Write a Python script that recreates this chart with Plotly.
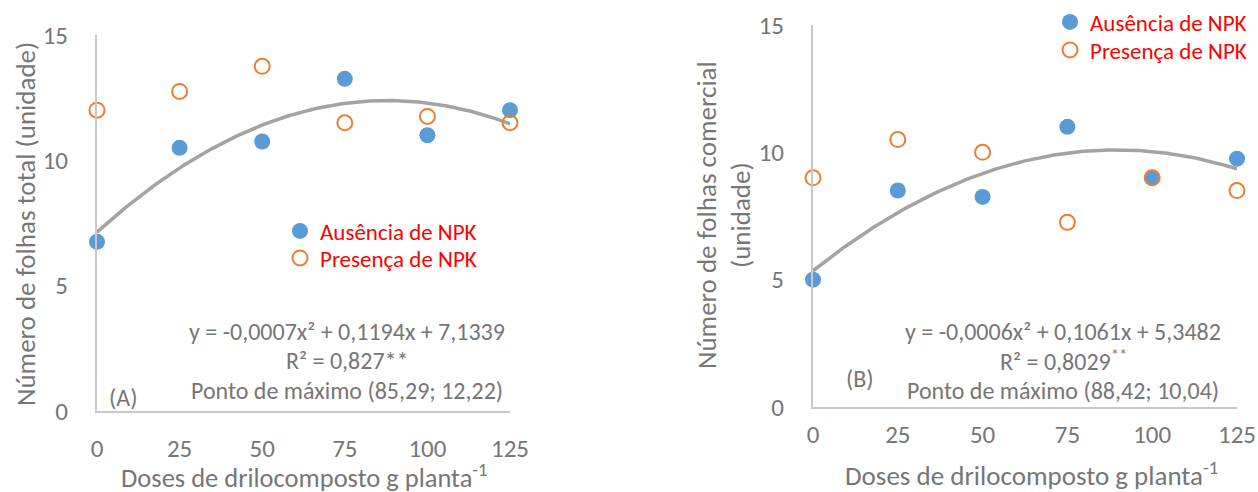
import numpy as np
import plotly.graph_objects as go

W, H = 1258, 492

doses = [0, 25, 50, 75, 100, 125]
x_ticks = [0, 25, 50, 75, 100, 125]
y_ticks = [0, 5, 10, 15]

# Panel A - Número de folhas total
a_ausencia = [6.75, 10.5, 10.75, 13.25, 11.0, 12.0]
a_presenca = [12.0, 12.75, 13.75, 11.5, 11.75, 11.5]

# Panel B - Número de folhas comercial
b_ausencia = [5.0, 8.5, 8.25, 11.0, 9.0, 9.75]
b_presenca = [9.0, 10.5, 10.0, 7.25, 9.0, 8.5]

name_aus = "Ausência de NPK"
name_pre = "Presença de NPK"

FONT = "Carlito, Lato, sans-serif"
TXT = "#767676"
AX = "#C8C8C8"
BLUE = "#5B9BD5"
ORANGE = "#ED7D31"
TREND = "#A3A3A3"


def fx(x):
    return x / W


def fy(y):
    return 1 - y / H


fig = go.Figure()

xs = np.linspace(0, 125, 200)
panels = [(a_ausencia, a_presenca, "x", "y", "legend", "legend3"),
          (b_ausencia, b_presenca, "x2", "y2", "legend2", "legend4")]
for aus, pre, xa, ya, lg1, lg2 in panels:
    coef = np.polyfit(doses, aus, 2)
    fig.add_trace(go.Scatter(x=xs, y=np.polyval(coef, xs), mode="lines",
                             line=dict(color=TREND, width=3.5), showlegend=False,
                             xaxis=xa, yaxis=ya, hoverinfo="skip"))
    fig.add_trace(go.Scatter(x=doses, y=aus, mode="markers", name=name_aus,
                             marker=dict(color=BLUE, size=16, line=dict(width=0)),
                             xaxis=xa, yaxis=ya, legend=lg1, cliponaxis=False))
    fig.add_trace(go.Scatter(x=doses, y=pre, mode="markers", name=name_pre,
                             marker=dict(symbol="circle-open", color=ORANGE, size=15,
                                         line=dict(width=2, color=ORANGE)),
                             xaxis=xa, yaxis=ya, legend=lg2, cliponaxis=False))

axis_common = dict(showgrid=False, zeroline=False, showline=True, linecolor=AX,
                   linewidth=2, ticks="", automargin=False,
                   tickfont=dict(family=FONT, size=25, color=TXT),
                   fixedrange=True)


def legend_at(x, yc):
    # x: left edge of the legend box, yc: centre of its single row (screen px)
    return dict(x=fx(x), y=fy(yc), xanchor="left", yanchor="middle",
                font=dict(family=FONT, size=23, color="#FF0000"),
                bgcolor="rgba(0,0,0,0)", tracegroupgap=0)


fig.update_layout(
    template="none",
    width=W, height=H,
    margin=dict(l=0, r=0, t=0, b=0, pad=0, autoexpand=False),
    paper_bgcolor="white", plot_bgcolor="white",
    font=dict(family=FONT, color=TXT),
    xaxis=dict(domain=[fx(97), fx(510)], range=[0, 125], tickvals=x_ticks,
               anchor="y", ticklabelstandoff=14, **axis_common),
    yaxis=dict(domain=[fy(411), fy(35)], range=[0, 15], tickvals=y_ticks,
               anchor="x", ticklabelstandoff=22, **axis_common),
    xaxis2=dict(domain=[fx(813), fx(1237)], range=[0, 125], tickvals=x_ticks,
                anchor="y2", ticklabelstandoff=4, **axis_common),
    yaxis2=dict(domain=[fy(407), fy(25)], range=[0, 15], tickvals=y_ticks,
                anchor="x2", ticklabelstandoff=22, **axis_common),
    legend=legend_at(280, 231),
    legend3=legend_at(280, 258),
    legend2=legend_at(1050, 22),
    legend4=legend_at(1050, 50),
    showlegend=True,
)


def ann(text, x, y, size=24, angle=0, xanchor="center"):
    fig.add_annotation(text=text, x=fx(x), y=fy(y), xref="paper", yref="paper",
                       showarrow=False, xanchor=xanchor, yanchor="middle",
                       textangle=angle, font=dict(family=FONT, size=size, color=TXT))


# Panel A texts
ann("y = -0,0007x² + 0,1194x + 7,1339", 347, 331)
ann("R² = 0,827**", 347, 360)
ann("Ponto de máximo (85,29; 12,22)", 347, 390)
ann("(A)", 123, 397)
ann("Doses de drilocomposto g planta<sup>-1</sup>", 304, 476, size=26.5)
ann("Número de folhas total (unidade)", 25, 224, size=27, angle=-90)

# Panel B texts
ann("y = -0,0006x² + 0,1061x + 5,3482", 1063, 331)
ann("R² = 0,8029<sup>**</sup>", 1063, 360)
ann("Ponto de máximo (88,42; 10,04)", 1063, 390)
ann("(B)", 860, 378)
ann("Doses de drilocomposto g planta<sup>-1</sup>", 1031, 474, size=27)
ann("Número de folhas comercial", 706, 215, size=27, angle=-90)
ann("(unidade)", 740, 215, size=27, angle=-90)

# remove the default 8px page margin so the figure fills the window exactly
fig.write_html("out.html",
               config={"displayModeBar": False},
               post_script="document.body.style.margin='0px';"
                           "document.body.style.overflow='hidden';")
